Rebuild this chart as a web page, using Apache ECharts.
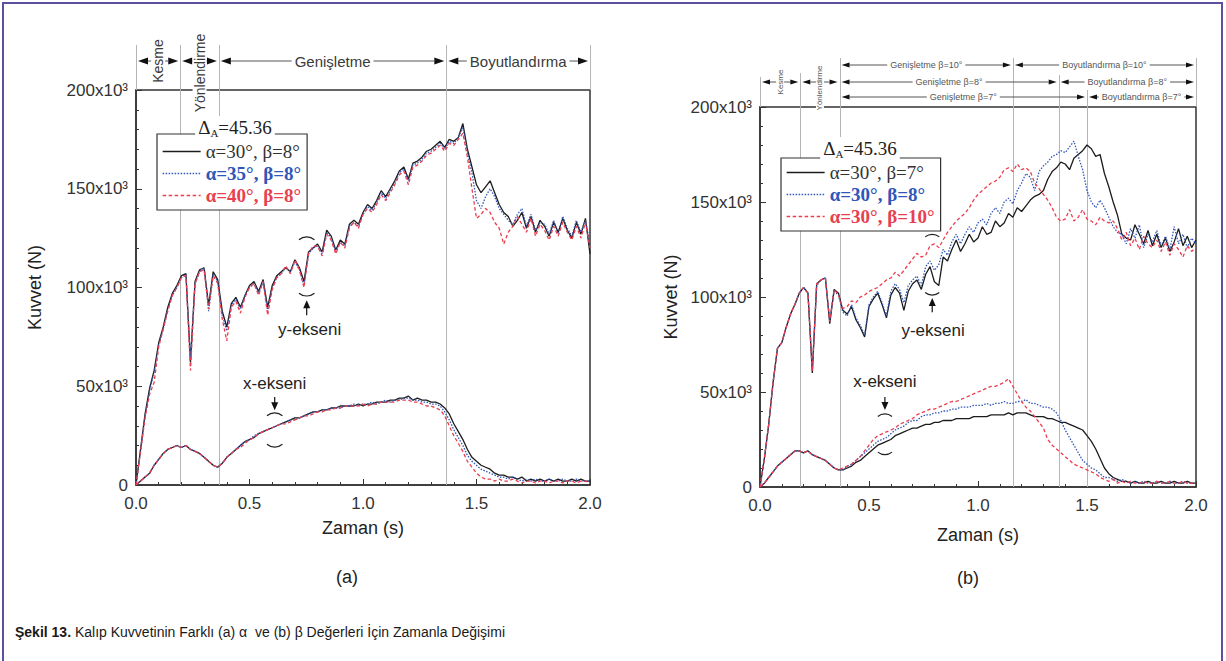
<!DOCTYPE html>
<html lang="tr">
<head>
<meta charset="utf-8">
<title>Şekil 13</title>
<script src="https://cdn.jsdelivr.net/npm/echarts@6/dist/echarts.min.js"></script>
<style>
  html, body { margin:0; padding:0; background:#fff; }
  body { width:1226px; height:661px; position:relative; overflow:hidden; }
  #frame { position:absolute; left:2px; top:2px; width:1221px; height:720px; border:2px solid #5e4f9f; box-sizing:border-box; }
  .panel { position:absolute; top:0; width:613px; height:661px; }
  #pa { left:0; }
  #pb { left:613px; }
  #caption { position:absolute; left:15px; top:624px; font:14px "Liberation Sans", Arial, sans-serif; color:#1a1a1a; white-space:pre; }
</style>
</head>
<body>
<div id="frame"></div>
<div id="pa" class="panel"></div>
<div id="pb" class="panel"></div>
<div id="caption"><b>Şekil 13.</b> Kalıp Kuvvetinin Farklı (a) α  ve (b) β Değerleri İçin Zamanla Değişimi</div>
<script>
// Sampling instants (s)
const TIME = [
  0,0.02,0.04,0.06,0.08,0.1,0.12,0.14,0.16,0.18,
  0.2,0.22,0.24,0.26,0.28,0.3,0.32,0.34,0.36,0.38,
  0.4,0.42,0.44,0.46,0.48,0.5,0.52,0.54,0.56,0.58,
  0.6,0.62,0.64,0.66,0.68,0.7,0.72,0.74,0.76,0.78,
  0.8,0.82,0.84,0.86,0.88,0.9,0.92,0.94,0.96,0.98,
  1,1.02,1.04,1.06,1.08,1.1,1.12,1.14,1.16,1.18,
  1.2,1.22,1.24,1.26,1.28,1.3,1.32,1.34,1.36,1.38,
  1.4,1.42,1.44,1.46,1.48,1.5,1.52,1.54,1.56,1.58,
  1.6,1.62,1.64,1.66,1.68,1.7,1.72,1.74,1.76,1.78,
  1.8,1.82,1.84,1.86,1.88,1.9,1.92,1.94,1.96,1.98,
  2
];

// (a) series names and forces (x10^3 N)
const NAMES_A = ['α=30°, β=8°', 'α=35°, β=8°', 'α=40°, β=8°'];

// y-axis force, alpha = 30
const A_Y30 = [
  0,18,36,49,58,72,80,90,97,101,
  106,107,62,103,109,110,91,108,104,88,
  80,92,95,90,96,101,103,98,104,90,
  101,106,108,110,108,114,110,103,118,120,
  122,118,129,126,119,124,122,132,134,132,
  138,142,140,144,149,146,150,154,159,161,
  155,163,164,166,169,170,172,174,171,175,
  174,176,183,170,161,152,148,151,154,148,
  142,138,136,131,134,138,130,136,128,134,
  131,126,133,128,135,129,125,133,127,135,
  117
];
// y-axis force, alpha = 35
const A_Y35 = [
  0,17,35,48,57,71,79,89,96,100,
  105,107,64,102,108,110,88,107,103,86,
  78,91,94,89,96,100,102,97,103,88,
  100,105,107,110,108,113,109,101,117,120,
  121,117,128,125,118,123,121,131,133,131,
  137,141,139,143,148,145,149,153,158,160,
  154,162,163,165,168,169,171,173,170,174,
  173,176,181,168,158,144,140,146,150,146,
  140,137,134,132,137,140,131,137,129,133,
  132,127,134,127,136,130,126,134,128,134,
  122
];
// y-axis force, alpha = 40
const A_Y40 = [
  0,17,34,46,52,70,79,88,96,100,
  105,106,58,102,108,109,89,106,102,84,
  73,90,93,87,95,100,102,96,103,86,
  99,105,107,111,107,114,109,100,117,121,
  121,116,127,124,117,123,120,130,133,130,
  137,140,138,142,147,144,148,152,157,159,
  152,161,162,164,167,168,170,172,169,173,
  172,175,178,166,150,135,137,140,138,133,
  130,122,128,131,136,132,128,135,126,132,
  129,124,131,126,133,128,124,131,125,133,
  120
];
// x-axis force, alpha = 30
const A_X30 = [
  0,2,4,6,10,13,16,18,19,20,
  19,20,18,17,16,14,12,10,9,11,
  14,16,18,20,22,23,24,26,27,28,
  29,30,31,32,33,34,34,35,36,37,
  37,38,38,39,39,40,40,40,40,41,
  40,41,41,42,42,42,43,43,44,44,
  45,43,44,43,43,42,42,41,39,36,
  31,27,23,18,14,12,10,9,8,6,
  5,5,4,4,3,4,2,3,2,3,
  2,3,2,3,2,2,3,2,3,2,
  2
];
// x-axis force, alpha = 35
const A_X35 = [
  0,2,4,6,10,13,16,18,19,20,
  19,20,18,17,16,14,12,10,9,11,
  14,16,18,20,22,23,25,26,27,28,
  29,30,31,32,33,33,34,35,36,37,
  37,38,38,39,39,39,40,40,41,40,
  41,41,42,41,42,43,42,43,43,44,
  44,43,43,42,42,41,41,40,37,33,
  28,24,20,15,12,10,8,7,6,5,
  4,4,3,4,3,2,3,2,3,2,
  2,3,2,2,3,2,2,3,2,2,
  2
];
// x-axis force, alpha = 40
const A_X40 = [
  0,2,4,6,10,13,16,18,19,20,
  19,20,18,17,16,14,12,10,9,11,
  14,16,18,19,21,23,24,26,27,28,
  29,30,31,31,32,33,34,35,35,36,
  37,37,38,38,39,39,40,40,40,40,
  41,40,41,41,42,42,42,42,43,43,
  43,42,42,41,40,40,39,38,35,30,
  25,21,17,12,9,6,4,3,3,2,
  3,2,2,3,2,1,2,2,1,2,
  2,1,2,2,1,2,2,1,2,2,
  1
];

// (b) series names and forces (x10^3 N)
const NAMES_B = ['α=30°, β=7°', 'α=30°, β=8°', 'α=30°, β=10°'];

// y-axis force, beta = 7
const B_Y7 = [
  0,15,33,55,73,76,84,91,96,102,
  105,102,60,107,109,110,86,104,102,93,
  91,95,88,84,79,95,99,102,96,89,
  101,105,102,93,103,107,109,104,112,116,
  108,106,121,119,125,130,124,128,133,129,
  131,137,133,134,140,137,139,144,142,147,
  145,148,151,153,154,156,162,166,168,171,
  170,167,173,175,177,180,178,174,175,165,
  158,150,143,133,131,130,138,133,128,135,
  127,133,126,131,124,129,136,127,132,126,
  130
];
// y-axis force, beta = 8
const B_Y8 = [
  0,15,33,55,73,76,84,91,96,102,
  105,102,62,106,109,110,88,103,101,92,
  90,96,89,85,80,96,100,103,97,90,
  103,107,104,97,106,109,111,106,116,119,
  114,117,125,122,129,133,128,133,137,134,
  139,141,138,144,147,144,150,152,149,156,
  160,165,163,156,166,169,171,174,175,177,
  176,179,182,174,167,156,150,147,151,147,
  142,137,134,133,128,136,131,138,126,133,
  129,135,127,132,125,137,128,133,126,131,
  128
];
// y-axis force, beta = 10
const B_Y10 = [
  0,15,33,55,73,76,84,91,96,102,
  105,102,61,107,109,110,87,104,101,94,
  95,98,97,100,101,103,104,105,107,109,
  110,113,111,114,117,120,123,121,122,127,
  128,126,130,134,137,140,142,144,147,151,
  154,156,158,160,161,163,167,168,166,170,
  167,168,166,160,157,154,151,147,142,140,
  141,146,140,142,146,141,140,138,142,140,
  139,140,136,130,134,127,131,125,132,128,
  126,130,124,129,122,128,125,121,127,124,
  126
];
// x-axis force, beta = 7
const B_X7 = [
  0,2,5,8,11,13,15,17,19,19,
  18,19,17,16,15,14,12,10,9,9,
  10,11,13,14,16,18,20,22,23,24,
  25,27,28,29,30,31,31,32,33,33,
  34,34,35,35,35,36,36,36,36,37,
  37,37,37,38,38,38,38,39,38,39,
  39,39,38,37,37,37,36,36,35,34,
  34,33,32,31,30,27,24,20,15,10,
  7,5,4,3,3,2,3,2,2,3,
  2,2,3,2,2,3,2,2,3,2,
  2
];
// x-axis force, beta = 8
const B_X8 = [
  0,2,5,8,11,13,15,17,19,19,
  18,19,17,16,15,14,12,10,9,9,
  11,12,14,16,18,20,22,24,25,26,
  28,30,31,32,34,35,35,37,38,38,
  39,39,40,40,41,41,42,42,42,43,
  43,43,44,43,44,44,45,44,44,45,
  45,46,44,44,43,42,42,41,39,35,
  30,26,22,18,14,12,10,9,7,5,
  5,4,3,4,3,2,3,2,3,2,
  2,3,2,2,3,2,2,3,2,2,
  2
];
// x-axis force, beta = 10
const B_X10 = [
  0,2,5,8,11,13,15,17,19,19,
  18,19,17,16,15,14,12,10,9,10,
  11,12,14,16,19,22,25,27,28,29,
  30,31,33,34,35,36,38,39,40,41,
  41,42,43,44,45,45,46,47,48,49,
  50,51,52,53,53,54,55,57,53,49,
  45,42,40,37,34,31,25,22,20,18,
  16,14,12,11,10,9,8,7,5,4,
  3,4,2,3,2,3,2,2,3,2,
  2,3,2,2,3,2,2,3,2,2,
  2
];

const FONT = '"Liberation Sans", Arial, Helvetica, sans-serif';
const SERIF = '"Liberation Serif", "Times New Roman", serif';

const LINE_STYLES = [
  { color: '#1c1c1c', type: 'solid', width: 1.3, z: 2 },
  { color: '#2f56b8', type: [1.5, 1.5], width: 1.3, z: 3 },
  { color: '#ec3d4f', type: [3.5, 2.5], width: 1.3, z: 4 }
];
const TEXT_COLORS = ['#333333', '#2f56b8', '#e8404e'];

function curve(name, vals, st) {
  return {
    name: name, type: 'line', data: vals.map((v, i) => [TIME[i], v]),
    showSymbol: false, symbol: 'none', animation: false, silent: true, z: st.z,
    lineStyle: { color: st.color, width: st.width, type: st.type },
    itemStyle: { color: st.color }
  };
}

function buildOption(c) {
  const series = [];
  c.up.forEach((v, i) => series.push(curve(c.names[i], v, LINE_STYLES[i])));
  c.low.forEach((v, i) => series.push(curve(c.names[i], v, LINE_STYLES[i])));
  const tickLine = { color: '#333', width: 1 };
  return {
    animation: false,
    grid: Object.assign({ show: true, borderColor: '#333', borderWidth: 1.5, backgroundColor: 'transparent',
      containLabel: false, outerBoundsMode: 'none' }, c.grid),
    xAxis: {
      type: 'value', min: 0, max: 2, interval: 0.5,
      axisLine: { show: true, onZero: false, lineStyle: { color: '#333', width: 1.5 } },
      axisTick: { show: true, inside: true, length: 6, lineStyle: tickLine },
      minorTick: { show: true, splitNumber: 5, length: 3, lineStyle: tickLine },
      splitLine: { show: false }, minorSplitLine: { show: false },
      axisLabel: { formatter: v => v.toFixed(1), fontSize: 17, fontFamily: FONT, color: '#333', margin: 10 },
      name: 'Zaman (s)', nameLocation: 'middle', nameGap: c.xNameGap,
      nameTextStyle: { fontSize: 18, fontFamily: FONT, color: '#222' }
    },
    yAxis: {
      type: 'value', min: 0, max: 200, interval: 50,
      axisLine: { show: true, onZero: false, lineStyle: { color: '#333', width: 1.5 } },
      axisTick: { show: true, inside: true, length: 6, lineStyle: tickLine },
      minorTick: { show: true, splitNumber: 5, length: 3, lineStyle: tickLine },
      splitLine: { show: false }, minorSplitLine: { show: false },
      axisLabel: { formatter: v => (v === 0 ? '0' : v + 'x10³'), fontSize: 17, fontFamily: FONT, color: '#333', margin: 8 },
      name: 'Kuvvet (N)', nameLocation: 'middle', nameGap: c.yNameGap,
      nameTextStyle: { fontSize: 18, fontFamily: FONT, color: '#222' }
    },
    legend: {
      show: true, orient: 'vertical', left: c.legend.left, top: c.legend.top, padding: c.legend.pad,
      itemGap: 3, itemWidth: 38, itemHeight: 14, borderColor: '#333', borderWidth: 1.2,
      backgroundColor: '#fff', selectedMode: false,
      // line-only key: hide the marker symbol, keep each series' own line style
      itemStyle: { opacity: 0, borderWidth: 0 },
      lineStyle: { width: 1.3 },
      textStyle: { fontFamily: SERIF, fontSize: 19, color: '#333' },
      data: c.names.map((n, i) => ({ name: n, textStyle: { color: TEXT_COLORS[i], fontWeight: i ? 'bold' : 'normal' } }))
    },
    series: series
  };
}

function tri(x, y, dir, L, H) {
  return { type: 'polygon', z: 60, silent: true,
    shape: { points: [[x, y], [x - dir * L, y - H / 2], [x - dir * L, y + H / 2]] },
    style: { fill: '#111' } };
}

// Phase rows, boundary lines, axis notes and legend heading, placed through the grid's own scale
function decorate(chart, d) {
  const P = (t, f) => chart.convertToPixel({ gridIndex: 0 }, [t, f]);
  const top = P(0, 200)[1], bottom = P(0, 0)[1];
  const els = [];
  d.bounds.forEach(b => {
    const x = Math.round(P(b.t, 0)[0]) + 0.5;
    els.push({ type: 'line', z: 1, silent: true,
      shape: { x1: x, y1: top - b.rise, x2: x, y2: b.edge ? top : bottom },
      style: { stroke: d.boundColor, lineWidth: 1 } });
  });
  d.rows.forEach(r => {
    const y = top - r.dy;
    r.phases.forEach(p => {
      const xa = P(p.a, 0)[0] + r.gap, xb = P(p.b, 0)[0] - r.gap;
      els.push(tri(xa, y, -1, r.L, r.H), tri(xb, y, 1, r.L, r.H));
      els.push({ type: 'line', z: 50, silent: true,
        shape: { x1: xa + r.L, y1: y, x2: xb - r.L, y2: y },
        style: { stroke: '#555', lineWidth: 1 } });
      const mid = (xa + xb) / 2;
      if (p.rot) {
        els.push({ type: 'text', z: 70, silent: true, x: mid, y: y + (p.off || 0), rotation: Math.PI / 2,
          style: { text: p.text, x: 0, y: 0, fontSize: r.rotSize, fontFamily: FONT, fill: r.color,
            align: 'center', verticalAlign: 'middle', textAlign: 'center', textVerticalAlign: 'middle',
            backgroundColor: '#fff', padding: [0, 1] } });
      } else {
        els.push({ type: 'text', z: 70, silent: true,
          style: { text: p.text, x: mid, y: y, fontSize: r.fontSize, fontFamily: FONT, fill: r.color,
            align: 'center', verticalAlign: 'middle', textAlign: 'center', textVerticalAlign: 'middle',
            backgroundColor: '#fff', padding: [0, 3] } });
      }
    });
  });
  d.notes.forEach(n => {
    const tp = P(n.t, n.f);
    els.push({ type: 'text', z: 70, silent: true,
      style: { text: n.text, x: tp[0], y: tp[1], fontSize: d.noteSize, fontFamily: FONT, fill: '#222',
        align: 'center', verticalAlign: 'middle', textAlign: 'center', textVerticalAlign: 'middle' } });
    const a0 = P(n.arrow.t, n.arrow.from), a1 = P(n.arrow.t, n.arrow.to);
    const dir = a1[1] < a0[1] ? -1 : 1;
    els.push({ type: 'line', z: 60, silent: true,
      shape: { x1: a0[0], y1: a0[1], x2: a0[0], y2: a1[1] - dir * 6 },
      style: { stroke: '#111', lineWidth: 1.2 } });
    els.push({ type: 'polygon', z: 60, silent: true,
      shape: { points: [[a1[0], a1[1]], [a1[0] - 3.5, a1[1] - dir * 8], [a1[0] + 3.5, a1[1] - dir * 8]] },
      style: { fill: '#111' } });
    n.arcs.forEach(a => {
      const p = P(a.t, a.f), r = d.arcR, s = 0.7;
      const down = a.open === 'down';
      const cy = down ? p[1] + r : p[1] - r;
      const mid = down ? Math.PI * 1.5 : Math.PI * 0.5;
      els.push({ type: 'arc', z: 60, silent: true,
        shape: { cx: p[0], cy: cy, r: r, startAngle: mid - s, endAngle: mid + s, clockwise: true },
        style: { stroke: '#222', fill: null, lineWidth: 1.2 } });
    });
  });
  els.push({ type: 'text', z: 100, silent: true,
    style: { text: '{d|Δ}{s|A}{d|=45.36}', x: d.title.x, y: d.title.y,
      align: 'center', verticalAlign: 'middle', textAlign: 'center', textVerticalAlign: 'middle',
      backgroundColor: '#fff', padding: [0, 3],
      rich: {
        d: { fontFamily: SERIF, fontSize: 19, fill: '#222', lineHeight: 22, verticalAlign: 'middle' },
        s: { fontFamily: SERIF, fontSize: 11, fill: '#222', lineHeight: 22, verticalAlign: 'bottom' }
      } } });
  els.push({ type: 'text', z: 100, silent: true,
    style: { text: d.panel.text, x: d.panel.x, y: d.panel.y, fontSize: 18, fontFamily: FONT, fill: '#222',
      align: 'center', verticalAlign: 'middle', textAlign: 'center', textVerticalAlign: 'middle' } });
  chart.setOption({ graphic: { elements: els } });
}

const PANEL_A = {
  grid: { left: 136, top: 90, width: 454, height: 395 },
  xNameGap: 34, yNameGap: 92,
  legend: { left: 157, top: 134, pad: [8, 6, 5, 5] },
  names: NAMES_A, up: [A_Y30, A_Y35, A_Y40], low: [A_X30, A_X35, A_X40]
};
const PANEL_B = {
  grid: { left: 147, top: 107, width: 436, height: 380 },
  xNameGap: 39, yNameGap: 44,
  legend: { left: 168, top: 158, pad: [5, 6, 5, 5] },
  names: NAMES_B, up: [B_Y7, B_Y8, B_Y10], low: [B_X7, B_X8, B_X10]
};

const DECOR_A = {
  boundColor: '#b5b5b5', arcR: 12, noteSize: 17,
  bounds: [{ t: 0, rise: 45, edge: true }, { t: 0.195, rise: 45 }, { t: 0.365, rise: 45 },
           { t: 1.367, rise: 45 }, { t: 2, rise: 45, edge: true }],
  rows: [{ dy: 29, gap: 2, L: 10, H: 7, fontSize: 15, rotSize: 14, color: '#3a3a3a', phases: [
    { a: 0, b: 0.195, text: 'Kesme', rot: true, off: 0 },
    { a: 0.195, b: 0.365, text: 'Yönlendirme', rot: true, off: 12 },
    { a: 0.365, b: 1.367, text: 'Genişletme' },
    { a: 1.367, b: 2, text: 'Boyutlandırma' }] }],
  notes: [
    { text: 'y-ekseni', t: 0.765, f: 78.5, arrow: { t: 0.752, from: 86, to: 93.5 },
      arcs: [{ t: 0.752, f: 125.6, open: 'down' }, { t: 0.752, f: 95.7, open: 'up' }] },
    { text: 'x-ekseni', t: 0.611, f: 51.6, arrow: { t: 0.611, from: 44.6, to: 37.8 },
      arcs: [{ t: 0.611, f: 36.5, open: 'down' }, { t: 0.611, f: 19.2, open: 'up' }] }
  ],
  title: { x: 235, y: 127 }, panel: { text: '(a)', x: 347, y: 577 }
};
const DECOR_B = {
  boundColor: '#b5b5b5', arcR: 11, noteSize: 17,
  bounds: [{ t: 0, rise: 30, edge: true }, { t: 0.185, rise: 34 }, { t: 0.365, rise: 49 },
           { t: 1.16, rise: 49 }, { t: 1.37, rise: 32 }, { t: 1.5, rise: 17 }, { t: 2, rise: 49, edge: true }],
  rows: [
    { dy: 42, gap: 2, L: 8, H: 5, fontSize: 9, rotSize: 8, color: '#555', phases: [
      { a: 0.365, b: 1.16, text: 'Genişletme β=10°' },
      { a: 1.16, b: 2, text: 'Boyutlandırma β=10°' }] },
    { dy: 25, gap: 2, L: 8, H: 5, fontSize: 9, rotSize: 8, color: '#555', phases: [
      { a: 0, b: 0.185, text: 'Kesme', rot: true, off: 0 },
      { a: 0.185, b: 0.365, text: 'Yönlendirme', rot: true, off: 6 },
      { a: 0.365, b: 1.37, text: 'Genişletme β=8°' },
      { a: 1.37, b: 2, text: 'Boyutlandırma β=8°' }] },
    { dy: 10, gap: 2, L: 8, H: 5, fontSize: 9, rotSize: 8, color: '#555', phases: [
      { a: 0.365, b: 1.5, text: 'Genişletme β=7°' },
      { a: 1.5, b: 2, text: 'Boyutlandırma β=7°' }] }
  ],
  notes: [
    { text: 'y-ekseni', t: 0.794, f: 82.6, arrow: { t: 0.79, from: 92, to: 99.5 },
      arcs: [{ t: 0.79, f: 101, open: 'up' }, { t: 0.79, f: 133, open: 'down' }] },
    { text: 'x-ekseni', t: 0.573, f: 55.3, arrow: { t: 0.573, from: 47.4, to: 40.5 },
      arcs: [{ t: 0.573, f: 38.5, open: 'down' }, { t: 0.573, f: 17, open: 'up' }] }
  ],
  title: { x: 247, y: 148 }, panel: { text: '(b)', x: 355, y: 578 }
};

const chartA = echarts.init(document.getElementById('pa'), null, { renderer: 'svg' });
chartA.setOption(buildOption(PANEL_A));
decorate(chartA, DECOR_A);

const chartB = echarts.init(document.getElementById('pb'), null, { renderer: 'svg' });
chartB.setOption(buildOption(PANEL_B));
decorate(chartB, DECOR_B);
</script>
</body>
</html>
